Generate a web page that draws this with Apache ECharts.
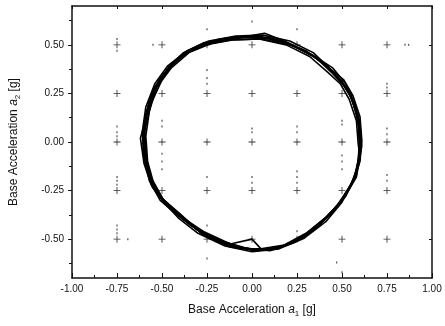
<!DOCTYPE html>
<html><head><meta charset="utf-8">
<script src="https://cdn.jsdelivr.net/npm/echarts@6/dist/echarts.min.js"></script>
<style>html,body{margin:0;padding:0;background:#fff}#c{width:445px;height:326px}</style>
</head><body><div id="c"></div>
<script>
const xTicks = [-1, -0.75, -0.5, -0.25, 0, 0.25, 0.5, 0.75, 1];
const yTicks = [-0.5, -0.25, 0, 0.25, 0.5];
const yMinorTicks = [-0.625, -0.375, -0.125, 0.125, 0.375, 0.625];

const loopA = [[0.60,0.00],[0.59,0.12],[0.55,0.23],[0.50,0.31],[0.44,0.37],[0.33,0.45],[0.20,0.51],[0.05,0.54],[-0.10,0.535],[-0.25,0.51],[-0.37,0.46],[-0.46,0.38],[-0.53,0.29],[-0.58,0.17],[-0.60,0.04],[-0.59,-0.09],[-0.56,-0.19],[-0.50,-0.29],[-0.40,-0.37],[-0.28,-0.47],[-0.13,-0.53],[0.02,-0.555],[0.15,-0.545],[0.28,-0.49],[0.40,-0.40],[0.50,-0.30],[0.57,-0.19],[0.59,-0.09]];
const loopB = [[0.61,0.01],[0.60,0.13],[0.56,0.24],[0.51,0.32],[0.43,0.38],[0.34,0.46],[0.21,0.52],[0.06,0.55],[-0.09,0.545],[-0.24,0.52],[-0.36,0.47],[-0.47,0.39],[-0.54,0.30],[-0.59,0.18],[-0.61,0.05],[-0.60,-0.08],[-0.57,-0.20],[-0.51,-0.30],[-0.41,-0.38],[-0.29,-0.46],[-0.14,-0.52],[0.01,-0.56],[0.14,-0.55],[0.27,-0.50],[0.39,-0.41],[0.49,-0.31],[0.56,-0.20],[0.60,-0.10]];
const loopC = [[0.59,-0.01],[0.58,0.11],[0.54,0.22],[0.49,0.30],[0.42,0.36],[0.32,0.44],[0.19,0.50],[0.04,0.53],[-0.11,0.525],[-0.26,0.50],[-0.38,0.45],[-0.47,0.37],[-0.53,0.28],[-0.57,0.16],[-0.59,0.03],[-0.58,-0.10],[-0.55,-0.20],[-0.49,-0.30],[-0.39,-0.38],[-0.27,-0.48],[-0.12,-0.54],[0.03,-0.56],[0.16,-0.54],[0.29,-0.48],[0.41,-0.39],[0.51,-0.29],[0.58,-0.18],[0.60,-0.08]];
const loopD = [[0.60,0.02],[0.585,0.14],[0.54,0.25],[0.48,0.33],[0.42,0.39],[0.31,0.46],[0.18,0.52],[0.07,0.56],[-0.08,0.535],[-0.22,0.51],[-0.35,0.46],[-0.45,0.38],[-0.53,0.28],[-0.58,0.15],[-0.62,0.02],[-0.60,-0.11],[-0.56,-0.22],[-0.49,-0.31],[-0.40,-0.38],[-0.27,-0.46],[-0.12,-0.525],[0.00,-0.50],[0.05,-0.55],[0.18,-0.53],[0.30,-0.47],[0.42,-0.38],[0.52,-0.28],[0.58,-0.17],[0.595,-0.07]];
const loopE = [[0.595,0.00],[0.59,0.10],[0.56,0.21],[0.52,0.30],[0.45,0.38],[0.35,0.44],[0.22,0.50],[0.09,0.53],[-0.06,0.54],[-0.20,0.52],[-0.33,0.48],[-0.43,0.41],[-0.50,0.32],[-0.56,0.20],[-0.595,0.06],[-0.59,-0.06],[-0.565,-0.18],[-0.52,-0.27],[-0.43,-0.35],[-0.31,-0.45],[-0.17,-0.51],[-0.02,-0.55],[0.12,-0.55],[0.25,-0.51],[0.37,-0.43],[0.47,-0.33],[0.55,-0.22],[0.59,-0.12]];
const loopF = [[0.605,-0.01],[0.595,0.12],[0.55,0.245],[0.49,0.32],[0.44,0.37],[0.34,0.445],[0.21,0.50],[0.05,0.53],[-0.12,0.525],[-0.28,0.50],[-0.40,0.44],[-0.48,0.36],[-0.55,0.27],[-0.59,0.14],[-0.605,0.02],[-0.59,-0.12],[-0.555,-0.23],[-0.49,-0.31],[-0.41,-0.39],[-0.30,-0.47],[-0.15,-0.535],[0.00,-0.565],[0.15,-0.55],[0.29,-0.495],[0.41,-0.41],[0.50,-0.31],[0.565,-0.19],[0.59,-0.10]];
const loopG = [[0.60,0.03],[0.58,0.15],[0.54,0.26],[0.47,0.34],[0.40,0.40],[0.30,0.47],[0.17,0.52],[0.03,0.545],[-0.13,0.53],[-0.27,0.51],[-0.38,0.46],[-0.46,0.39],[-0.54,0.28],[-0.585,0.16],[-0.60,0.03],[-0.58,-0.13],[-0.54,-0.24],[-0.47,-0.33],[-0.38,-0.40],[-0.26,-0.48],[-0.11,-0.54],[0.04,-0.555],[0.17,-0.535],[0.31,-0.475],[0.42,-0.385],[0.51,-0.29],[0.575,-0.17],[0.60,-0.06]];
const loopH = [[0.61,-0.02],[0.60,0.09],[0.57,0.20],[0.51,0.29],[0.44,0.36],[0.36,0.43],[0.24,0.49],[0.11,0.535],[-0.04,0.545],[-0.18,0.53],[-0.31,0.49],[-0.42,0.42],[-0.51,0.33],[-0.57,0.22],[-0.60,0.08],[-0.605,-0.04],[-0.58,-0.16],[-0.53,-0.26],[-0.45,-0.34],[-0.34,-0.43],[-0.20,-0.50],[-0.05,-0.545],[0.10,-0.56],[0.23,-0.52],[0.35,-0.45],[0.46,-0.35],[0.54,-0.24],[0.59,-0.13]];
const loops = [loopA, loopB, loopC, loopD, loopE, loopF, loopG, loopH];

const gridX = [-0.75, -0.5, -0.25, 0, 0.25, 0.5, 0.75];
const gridY = [-0.5, -0.25, 0, 0.25, 0.5];
const dots = [[-0.75,0.53],[-0.75,0.47],[-0.75,0.05],[-0.75,0.08],[-0.75,0.03],[-0.75,-0.18],[-0.75,-0.20],[-0.75,-0.22],[-0.75,-0.43],[-0.75,-0.45],[-0.75,-0.47],[-0.69,-0.5],[-0.55,0.5],[-0.5,0.08],[-0.5,0.11],[-0.5,-0.10],[-0.5,-0.06],[-0.5,-0.14],[-0.25,0.30],[-0.25,0.33],[-0.25,0.37],[-0.25,0.58],[-0.25,-0.18],[-0.25,-0.43],[-0.25,-0.6],[0,0.05],[0,0.07],[0,-0.18],[0,-0.21],[0,0.62],[0.25,0.05],[0.25,0.08],[0.25,-0.15],[0.25,-0.18],[0.25,-0.21],[0.25,0.58],[0.5,0.09],[0.5,0.11],[0.5,-0.07],[0.5,-0.10],[0.5,-0.14],[0.75,0.07],[0.75,0.04],[0.75,0.30],[0.75,0.28],[0.75,-0.20],[0.75,-0.17],[0.47,-0.62],[0.50,-0.67],[0.85,0.5],[0.87,0.5],[0.25,-0.46]];

const plusPath = 'path://M4.4,0h1.2v4.4h4.4v1.2h-4.4v4.4h-1.2v-4.4h-4.4v-1.2h4.4z';
const gridPts = [];
gridX.forEach(x => gridY.forEach(y => gridPts.push([x, y])));

const txt = {color:'#111', fontFamily:'Liberation Sans, Arial, sans-serif'};
const series = loops.map(l => ({
  type:'line', xAxisIndex:0, yAxisIndex:0, data:l.concat([l[0]]), symbol:'none', silent:true,
  lineStyle:{color:'#000', width:1.6}
}));
series.push({type:'scatter', data:gridPts, symbol:plusPath, symbolSize:7, itemStyle:{color:'#000'}, silent:true});
series.push({type:'scatter', data:dots, symbol:'rect', symbolSize:[1.3,2], itemStyle:{color:'#333'}, silent:true});

const chart = echarts.init(document.getElementById('c'), null, {renderer:'canvas'});
chart.setOption({
  animation:false,
  grid:{left:68, right:13, top:6, bottom:48},
  xAxis:[{
    type:'value', min:-1, max:1, interval:0.25, position:'bottom',
    axisLine:{onZero:false, lineStyle:{color:'#111', width:1.5}},
    axisTick:{inside:true, length:5, lineStyle:{color:'#111'}},
    minorTick:{show:true, splitNumber:2, length:3, lineStyle:{color:'#111'}},
    splitLine:{show:false},
    axisLabel:{...txt, fontSize:10, margin:6, formatter:v=>v.toFixed(2)},
    name:'{n|Base Acceleration }{i|a}{s|1}{n| [g]}', nameLocation:'middle', nameGap:24,
    nameTextStyle:{rich:{
      n:{...txt, fontSize:12},
      i:{...txt, fontSize:12, fontStyle:'italic'},
      s:{...txt, fontSize:8, padding:[8,0,0,0]}
    }}
  },{
    type:'value', min:-1, max:1, interval:0.25, position:'top',
    axisLine:{onZero:false, lineStyle:{color:'#111', width:1.5}},
    axisTick:{inside:true, length:3, lineStyle:{color:'#111'}},
    axisLabel:{show:false}, splitLine:{show:false}
  }],
  yAxis:[{
    type:'value', min:-0.7, max:0.7, position:'left',
    axisLine:{onZero:false, lineStyle:{color:'#111', width:1.5}},
    axisTick:{inside:false, length:4, customValues:yTicks, lineStyle:{color:'#111'}},
    splitLine:{show:false},
    axisLabel:{...txt, fontSize:10, margin:8, customValues:yTicks, formatter:v=>v.toFixed(2)},
    name:'{n|Base Acceleration }{i|a}{s|2}{n| [g]}', nameLocation:'middle', nameGap:50,
    nameTextStyle:{rich:{
      n:{...txt, fontSize:12},
      i:{...txt, fontSize:12, fontStyle:'italic'},
      s:{...txt, fontSize:8, padding:[8,0,0,0]}
    }}
  },{
    type:'value', min:-0.7, max:0.7, position:'left',
    axisLine:{show:false, onZero:false},
    axisTick:{inside:false, length:3, customValues:yMinorTicks, lineStyle:{color:'#111'}},
    axisLabel:{show:false}, splitLine:{show:false}
  },{
    type:'value', min:-0.7, max:0.7, position:'right',
    axisLine:{onZero:false, lineStyle:{color:'#111', width:1.5}},
    axisTick:{inside:true, length:3, customValues:yTicks, lineStyle:{color:'#111'}},
    axisLabel:{show:false}, splitLine:{show:false}
  }],
  series: series
});
</script></body></html>
